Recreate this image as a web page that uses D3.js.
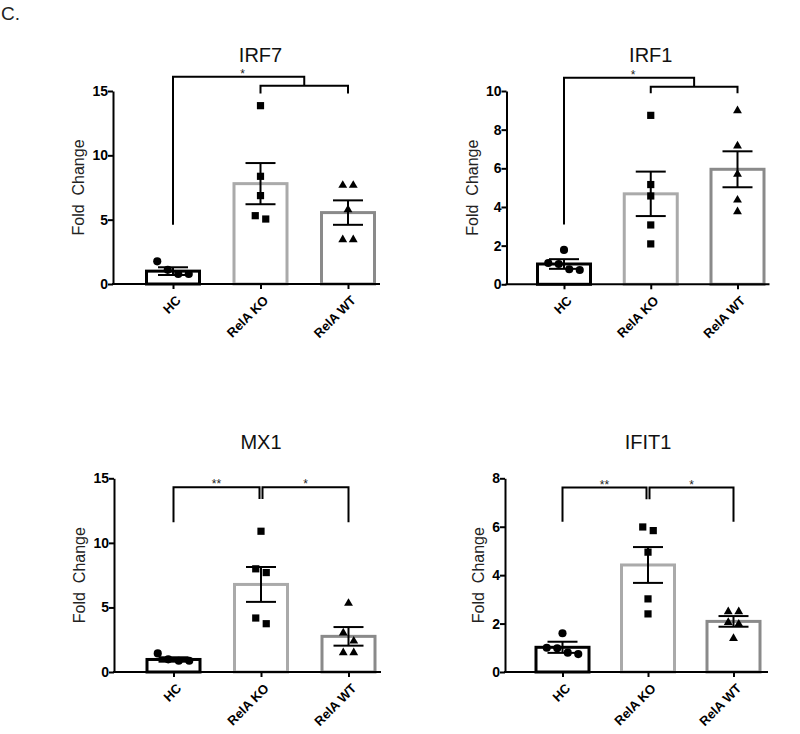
<!DOCTYPE html>
<html>
<head>
<meta charset="utf-8">
<title></title>
<script src="https://d3js.org/d3.v7.min.js"></script>
<style>
  body { margin: 0; background: #fff; }
  svg { display: block; }
</style>
</head>
<body>
<svg width="800" height="734"></svg>
<script>
// ---- data ----
var groups = ["HC", "RelA KO", "RelA WT"];
var genes = ["IRF7", "IRF1", "MX1", "IFIT1"];
var yMaxes = [15, 10, 15, 8];
var yTickVals = [[0, 5, 10, 15], [0, 2, 4, 6, 8, 10], [0, 5, 10, 15], [0, 2, 4, 6, 8]];

var means = [[1.0, 7.8, 5.55], [1.05, 4.68, 5.95], [0.97, 6.78, 2.76], [1.02, 4.42, 2.09]];
var sems  = [[0.3, 1.6, 0.95], [0.25, 1.15, 0.93], [0.17, 1.35, 0.72], [0.23, 0.74, 0.22]];

var pointsIRF7  = [[1.76, 1.1, 0.78, 0.78], [13.86, 8.37, 6.87, 5.31, 5.05], [7.67, 7.67, 5.78, 3.45, 3.45]];
var pointsIRF1  = [[1.78, 1.1, 1.05, 0.78, 0.74], [8.74, 5.16, 4.57, 3.07, 2.09], [8.98, 7.16, 5.7, 4.36, 3.76]];
var pointsMX1   = [[1.44, 0.98, 0.87, 0.87], [10.9, 7.99, 7.7, 4.18, 3.74], [5.32, 3.03, 2.4, 1.5, 1.5]];
var pointsIFIT1 = [[1.6, 1.0, 0.98, 0.8, 0.74], [5.99, 5.84, 4.95, 3.02, 2.4], [2.49, 2.49, 2.05, 1.98, 1.39]];
var allPoints = [pointsIRF7, pointsIRF1, pointsMX1, pointsIFIT1];

// brackets: from group (or pair midpoint) to group, bar height, leg ends
var bracketsIRF7  = [{a: "HC", b: ["RelA KO", "RelA WT"], y: 16.1, legA: 4.6, legB: 15.4, label: "*"},
                     {a: "RelA KO", b: "RelA WT", y: 15.4, legA: 14.8, legB: 14.8, label: ""}];
var bracketsIRF1  = [{a: "HC", b: ["RelA KO", "RelA WT"], y: 10.69, legA: 3.1, legB: 10.22, label: "*"},
                     {a: "RelA KO", b: "RelA WT", y: 10.22, legA: 9.88, legB: 9.88, label: ""}];
var bracketsMX1   = [{a: "HC", b: "RelA KO", y: 14.3, legA: 11.6, legB: 13.4, label: "**"},
                     {a: "RelA KO", b: "RelA WT", y: 14.3, legA: 13.4, legB: 11.6, label: "*"}];
var bracketsIFIT1 = [{a: "HC", b: "RelA KO", y: 7.62, legA: 6.21, legB: 7.13, label: "**"},
                     {a: "RelA KO", b: "RelA WT", y: 7.62, legA: 7.13, legB: 6.21, label: "*"}];
var allBrackets = [bracketsIRF7, bracketsIRF1, bracketsMX1, bracketsIFIT1];

// ---- layout ----
var panels = [
  {x: 113, top: 91, bottom: 284, first: 60, last: 235, len: 267},
  {x: 506.5, top: 91, bottom: 284.3, first: 57.5, last: 231, len: 263},
  {x: 114, top: 478.3, bottom: 672, first: 59.5, last: 234.5, len: 267},
  {x: 505, top: 478.3, bottom: 672, first: 57.5, last: 228.5, len: 263}
];
var font = "'Liberation Sans', Arial, sans-serif";
var barColors = ["#000", "#aaaaaa", "#8a8a8a"];
var shapes = [d3.symbolCircle, d3.symbolSquare, d3.symbolTriangle];
var shapeSizes = [52, 52, 34];
var barW = 53;

var svg = d3.select("svg").style("font-family", font);

svg.append("text").attr("x", 1).attr("y", 20)
  .style("font-size", "19px").style("fill", "#222").text("C.");

genes.forEach(function(gene, i) {
  var p = panels[i];
  var g = svg.append("g").attr("transform", "translate(" + p.x + ",0)");

  var x = d3.scalePoint().domain(groups).range([p.first, p.last]);
  var y = d3.scaleLinear().domain([0, yMaxes[i]]).range([p.bottom, p.top]);

  // bars
  g.selectAll("rect.bar").data(means[i]).enter().append("rect")
    .attr("class", "bar")
    .attr("x", function(d, j) { return x(groups[j]) - barW / 2; })
    .attr("width", barW)
    .attr("y", function(d) { return y(d); })
    .attr("height", function(d) { return y(0) - y(d); })
    .attr("fill", "#fff")
    .attr("stroke", function(d, j) { return barColors[j]; })
    .attr("stroke-width", 3);

  // scatter points, spread sideways where they overlap
  allPoints[i].forEach(function(vals, j) {
    var sorted = vals.slice().sort(function(a, b) { return b - a; });
    var clusters = [], cur = [];
    sorted.forEach(function(v) {
      if (cur.length && (y(v) - y(cur[cur.length - 1])) > 8.5) { clusters.push(cur); cur = []; }
      cur.push(v);
    });
    if (cur.length) clusters.push(cur);
    var placed = [];
    clusters.forEach(function(c) {
      c.forEach(function(v, k) {
        placed.push({v: v, dx: (k - (c.length - 1) / 2) * 10.5});
      });
    });
    g.selectAll(null).data(placed).enter().append("path")
      .attr("d", d3.symbol().type(shapes[j]).size(shapeSizes[j]))
      .attr("transform", function(d) {
        return "translate(" + (x(groups[j]) + d.dx) + "," + y(d.v) + ")";
      })
      .attr("fill", "#000");
  });

  // error bars (mean +/- SEM)
  means[i].forEach(function(m, j) {
    var cx = x(groups[j]), hi = y(m + sems[i][j]), lo = y(m - sems[i][j]);
    g.append("line").attr("x1", cx).attr("x2", cx).attr("y1", hi).attr("y2", lo)
      .attr("stroke", "#000").attr("stroke-width", 2);
    [hi, lo].forEach(function(yy) {
      g.append("line").attr("x1", cx - 15).attr("x2", cx + 15).attr("y1", yy).attr("y2", yy)
        .attr("stroke", "#000").attr("stroke-width", 2);
    });
  });

  // y axis
  var yAxis = g.append("g").call(d3.axisLeft(y).tickValues(yTickVals[i]).tickSize(5).tickSizeOuter(0))
    .attr("font-family", null).attr("font-size", null);
  yAxis.select(".domain").attr("stroke", "#000").attr("stroke-width", 2);
  yAxis.selectAll(".tick line").attr("stroke", "#000").attr("stroke-width", 2);
  yAxis.selectAll(".tick text").attr("x", -5)
    .style("font-family", font).style("font-size", "14px").style("font-weight", "bold").style("fill", "#000");

  var maxW = 0;
  yAxis.selectAll(".tick text").each(function() { maxW = Math.max(maxW, this.getComputedTextLength()); });

  // x axis
  var xAxis = g.append("g").attr("transform", "translate(0," + p.bottom + ")")
    .call(d3.axisBottom(x).tickSize(5).tickSizeOuter(0))
    .attr("font-family", null).attr("font-size", null);
  xAxis.select(".domain").remove();
  xAxis.append("line").attr("x1", -1).attr("x2", p.len).attr("stroke", "#000").attr("stroke-width", 2);
  xAxis.selectAll(".tick line").attr("stroke", "#000").attr("stroke-width", 2);
  xAxis.selectAll(".tick text")
    .style("font-family", font).style("font-size", "13px").style("font-weight", "bold").style("fill", "#000")
    .attr("text-anchor", "end")
    .attr("x", 0).attr("y", 0).attr("dy", "0.35em")
    .attr("transform", "translate(5,14) rotate(-45)");

  // y label
  var ly = (p.top + p.bottom) / 2;
  var lx = -5 - maxW - 14;
  g.append("text")
    .attr("transform", "translate(" + lx + "," + ly + ") rotate(-90)")
    .attr("text-anchor", "middle").attr("dy", "0.35em")
    .style("font-size", "16px").style("fill", "#222").style("white-space", "pre")
    .text("Fold  Change");

  // title
  g.append("text")
    .attr("x", x("RelA KO")).attr("y", p.top - 29)
    .attr("text-anchor", "middle")
    .style("font-size", "20px").style("fill", "#111")
    .text(gene);

  // significance brackets
  function gx(k) { return Array.isArray(k) ? (x(k[0]) + x(k[1])) / 2 : x(k); }
  allBrackets[i].forEach(function(b, bi) {
    var xa = gx(b.a), xb = gx(b.b);
    if (!Array.isArray(b.b) && allBrackets[i].length === 2 && !Array.isArray(allBrackets[i][0].b)) {
      // side-by-side brackets leave a small gap at the shared group
      if (bi === 0) xb -= 1.5; else xa += 1.5;
    }
    var yb = y(b.y);
    g.append("path")
      .attr("d", "M" + xa + "," + y(b.legA) + "V" + yb + "H" + xb + "V" + y(b.legB))
      .attr("fill", "none").attr("stroke", "#000").attr("stroke-width", 2);
    if (b.label) {
      g.append("text")
        .attr("x", (xa + xb) / 2 + (Array.isArray(b.b) ? 4 : 0)).attr("y", yb + 1)
        .attr("text-anchor", "middle")
        .style("font-size", "12px").style("fill", "#222")
        .text(b.label);
    }
  });
});
</script>
</body>
</html>
